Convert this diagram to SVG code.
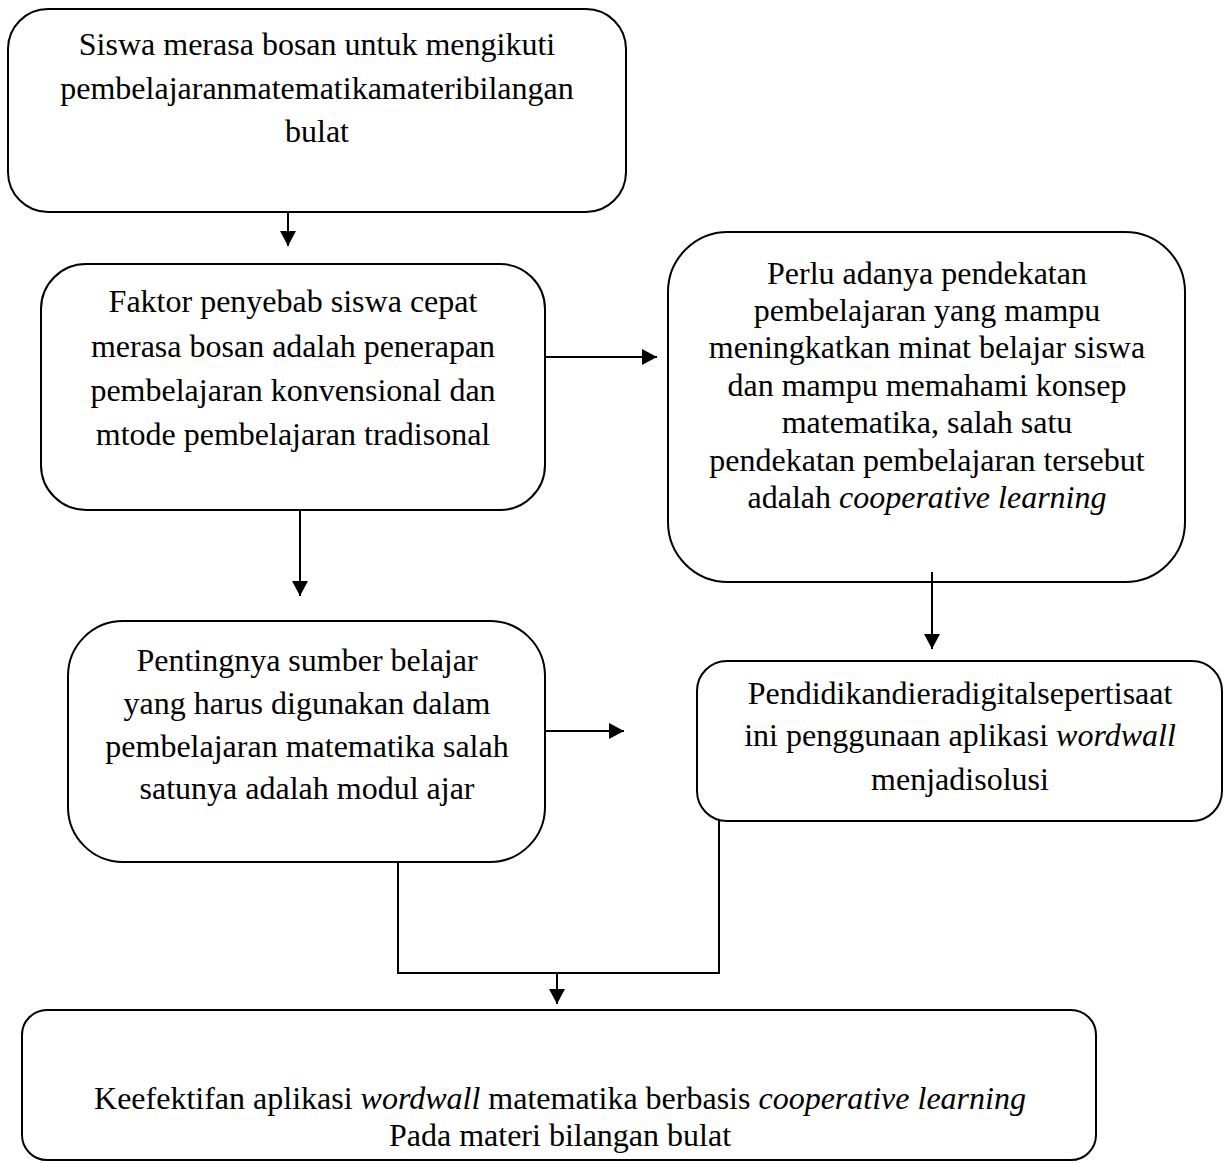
<svg xmlns="http://www.w3.org/2000/svg" width="1229" height="1163" viewBox="0 0 1229 1163">
<style>
.box{fill:#fff;stroke:#000;stroke-width:2}
.t{font-family:"Liberation Serif","Times New Roman",serif;font-size:32px;fill:#000;text-anchor:middle}
.i{font-style:italic}
.ln{fill:none;stroke:#000;stroke-width:2}
</style>
<defs>
<marker id="ah" markerUnits="userSpaceOnUse" markerWidth="16" markerHeight="16" refX="15" refY="8" orient="auto">
<path d="M0,0 L15,8 L0,16 Z" fill="#000"/>
</marker>
</defs>
<rect width="1229" height="1163" fill="#fff"/>
<g id="n1">
<rect class="box" x="8" y="9" width="618" height="203" rx="40"/>
<text class="t" x="317" y="55">Siswa merasa bosan untuk mengikuti</text>
<text class="t" x="317" y="99">pembelajaranmatematikamateribilangan</text>
<text class="t" x="317" y="142">bulat</text>
</g>
<g id="n2">
<rect class="box" x="41" y="264" width="504" height="246" rx="45"/>
<text class="t" x="293" y="312">Faktor penyebab siswa cepat</text>
<text class="t" x="293" y="357">merasa bosan adalah penerapan</text>
<text class="t" x="293" y="401">pembelajaran konvensional dan</text>
<text class="t" x="293" y="445">mtode pembelajaran tradisonal</text>
</g>
<g id="n3">
<rect class="box" x="668" y="232" width="517" height="350" rx="60"/>
<text class="t" x="927" y="284">Perlu adanya pendekatan</text>
<text class="t" x="927" y="321">pembelajaran yang mampu</text>
<text class="t" x="927" y="358">meningkatkan minat belajar siswa</text>
<text class="t" x="927" y="396">dan mampu memahami konsep</text>
<text class="t" x="927" y="433">matematika, salah satu</text>
<text class="t" x="927" y="471">pendekatan pembelajaran tersebut</text>
<text class="t" x="927" y="508">adalah <tspan class="i">cooperative learning</tspan></text>
</g>
<g id="n4">
<rect class="box" x="68" y="621" width="477" height="241" rx="55"/>
<text class="t" x="307" y="671">Pentingnya sumber belajar</text>
<text class="t" x="307" y="714">yang harus digunakan dalam</text>
<text class="t" x="307" y="757">pembelajaran matematika salah</text>
<text class="t" x="307" y="799">satunya adalah modul ajar</text>
</g>
<g id="n5">
<rect class="box" x="697" y="661" width="525" height="160" rx="30"/>
<text class="t" x="960" y="704">Pendidikandieradigitalsepertisaat</text>
<text class="t" x="960" y="746">ini penggunaan aplikasi <tspan class="i">wordwall</tspan></text>
<text class="t" x="960" y="790">menjadisolusi</text>
</g>
<g id="n6">
<rect class="box" x="22" y="1010" width="1074" height="150" rx="25"/>
<text class="t" x="560" y="1109">Keefektifan aplikasi <tspan class="i">wordwall</tspan> matematika berbasis <tspan class="i">cooperative learning</tspan></text>
<text class="t" x="560" y="1146">Pada materi bilangan bulat</text>
</g>
<g id="connectors">
<line class="ln" x1="288" y1="212" x2="288" y2="246" marker-end="url(#ah)"/>
<line class="ln" x1="545" y1="357" x2="657" y2="357" marker-end="url(#ah)"/>
<line class="ln" x1="300" y1="510" x2="300" y2="596" marker-end="url(#ah)"/>
<line class="ln" x1="932" y1="572" x2="932" y2="649" marker-end="url(#ah)"/>
<line class="ln" x1="545" y1="731" x2="624" y2="731" marker-end="url(#ah)"/>
<polyline class="ln" points="398,862 398,973 719,973 719,821"/>
<line class="ln" x1="557" y1="973" x2="557" y2="1004" marker-end="url(#ah)"/>
</g>
</svg>
